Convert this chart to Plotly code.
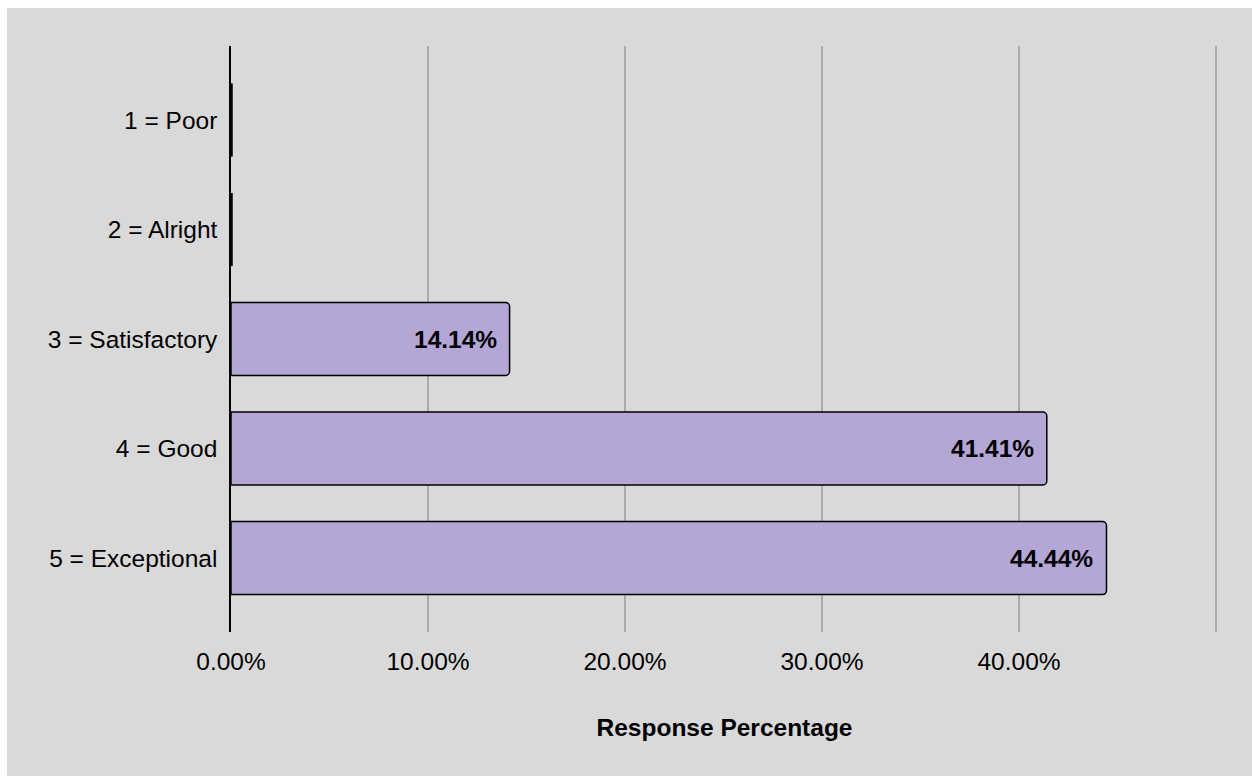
import plotly.graph_objects as go

categories = ["1 = Poor", "2 = Alright", "3 = Satisfactory", "4 = Good", "5 = Exceptional"]
percentages = [0.0, 0.0, 14.14, 41.41, 44.44]
tick_values = [0, 10, 20, 30, 40, 50]
tick_labels = ["0.00%", "10.00%", "20.00%", "30.00%", "40.00%", ""]

BG = "#d9d9d9"
BAR = "#b4a7d6"
FONT = "Liberation Sans, Arial, sans-serif"

fig = go.Figure()
fig.add_trace(go.Bar(
    x=percentages,
    y=categories,
    orientation="h",
    width=0.666,
    marker=dict(color=BAR, line=dict(color="black", width=1.5), cornerradius=4),
    hoverinfo="skip",
    showlegend=False,
))

annotations = []
shapes = []
for cat, val in zip(categories, percentages):
    if val > 0:
        annotations.append(dict(
            x=val, y=cat, xref="x", yref="y",
            text=f"<b>{val:.2f}%</b>", showarrow=False,
            xanchor="right", yanchor="middle", xshift=-11,
            font=dict(family=FONT, size=24.5, color="black"),
        ))
    else:
        idx = categories.index(cat)
        shapes.append(dict(
            type="line", xref="x", yref="y",
            x0=val, x1=val, y0=idx - 0.333, y1=idx + 0.333,
            line=dict(color="black", width=3.5),
        ))

# white border strips (top and left)
shapes.append(dict(type="rect", xref="paper", yref="paper",
                   xsizemode="pixel", xanchor=0, x0=-300, x1=-224,
                   y0=-1, y1=2, fillcolor="white", line=dict(width=0), layer="below"))
shapes.append(dict(type="rect", xref="paper", yref="paper",
                   ysizemode="pixel", yanchor=1, y0=38, y1=100,
                   x0=-1, x1=2, fillcolor="white", line=dict(width=0), layer="below"))

fig.update_layout(
    width=1252, height=776,
    margin=dict(l=231, r=34, t=46, b=144),
    paper_bgcolor=BG, plot_bgcolor=BG,
    font=dict(family=FONT, size=25, color="black"),
    annotations=annotations,
    shapes=shapes,
    bargap=0.334,
)
fig.update_xaxes(
    range=[0, 50.1], tickvals=tick_values, ticktext=tick_labels,
    showgrid=True, gridcolor="#ababab", gridwidth=1.5,
    zeroline=False, showline=False,
    ticks="outside", ticklen=8, tickcolor=BG,
    tickfont=dict(family=FONT, size=24.5, color="black"),
    title=dict(text="<b>Response Percentage</b>", font=dict(family=FONT, size=24.5, color="black"), standoff=44),
    fixedrange=True,
)
fig.update_yaxes(
    type="category", categoryorder="array", categoryarray=categories,
    range=[4.675, -0.675],
    showgrid=False, zeroline=False,
    showline=True, linecolor="black", linewidth=1.5,
    ticks="outside", ticklen=7, tickcolor=BG,
    tickfont=dict(family=FONT, size=24.5, color="black"),
    fixedrange=True,
)

fig.write_html("out.html")
